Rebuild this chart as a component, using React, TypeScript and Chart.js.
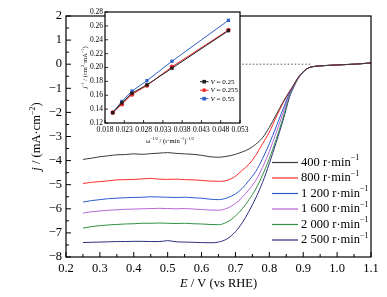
import React, { useEffect, useRef } from 'react';
import { Chart, registerables } from 'chart.js';
Chart.register(...registerables);

const FONT = '"Liberation Serif", "Times New Roman", serif';

// ---- Main chart data ----
const E = [0.25, 0.275, 0.3, 0.325, 0.35, 0.375, 0.4, 0.425, 0.45, 0.475, 0.5, 0.525, 0.55, 0.575, 0.6, 0.625, 0.65, 0.675, 0.7, 0.72, 0.74, 0.76, 0.78, 0.8, 0.82, 0.84, 0.86, 0.87, 0.88, 0.89, 0.9, 0.91, 0.92, 0.94, 0.96, 1.0, 1.05, 1.1];
const j400 = [-3.95, -3.9, -3.84, -3.8, -3.76, -3.75, -3.72, -3.74, -3.71, -3.69, -3.67, -3.7, -3.72, -3.74, -3.78, -3.84, -3.86, -3.82, -3.74, -3.64, -3.52, -3.32, -3.05, -2.62, -2.1, -1.58, -1.12, -0.9, -0.66, -0.46, -0.31, -0.2, -0.13, -0.08, -0.06, -0.03, 0.0, 0.05];
const j800 = [-4.95, -4.9, -4.87, -4.84, -4.8, -4.79, -4.78, -4.76, -4.74, -4.77, -4.78, -4.77, -4.79, -4.8, -4.82, -4.85, -4.86, -4.82, -4.65, -4.4, -4.15, -3.78, -3.3, -2.82, -2.2, -1.62, -1.14, -0.92, -0.67, -0.47, -0.31, -0.2, -0.13, -0.08, -0.06, -0.03, 0.0, 0.05];
const j1200 = [-5.72, -5.66, -5.62, -5.58, -5.56, -5.54, -5.53, -5.52, -5.5, -5.51, -5.52, -5.53, -5.52, -5.54, -5.56, -5.6, -5.62, -5.55, -5.38, -5.15, -4.82, -4.45, -3.92, -3.3, -2.6, -1.88, -1.18, -0.94, -0.68, -0.47, -0.32, -0.2, -0.13, -0.08, -0.06, -0.03, 0.0, 0.05];
const j1600 = [-6.18, -6.12, -6.09, -6.06, -6.04, -6.02, -6.01, -6.0, -5.99, -5.98, -5.99, -6.0, -5.99, -6.01, -6.03, -6.05, -6.06, -5.98, -5.78, -5.52, -5.2, -4.82, -4.28, -3.62, -2.85, -2.05, -1.22, -0.96, -0.69, -0.48, -0.32, -0.2, -0.13, -0.08, -0.06, -0.03, 0.0, 0.05];
const j2000 = [-6.8, -6.74, -6.7, -6.67, -6.65, -6.63, -6.62, -6.6, -6.6, -6.59, -6.6, -6.61, -6.6, -6.62, -6.63, -6.65, -6.66, -6.55, -6.3, -6.0, -5.62, -5.18, -4.6, -3.92, -3.12, -2.25, -1.28, -0.98, -0.7, -0.49, -0.33, -0.2, -0.13, -0.08, -0.06, -0.03, 0.0, 0.05];
const j2500 = [-7.4, -7.39, -7.38, -7.37, -7.36, -7.36, -7.35, -7.35, -7.36, -7.36, -7.32, -7.37, -7.38, -7.39, -7.4, -7.41, -7.38, -7.25, -6.95, -6.58, -6.1, -5.55, -4.9, -4.12, -3.25, -2.35, -1.35, -1.02, -0.72, -0.5, -0.33, -0.2, -0.13, -0.08, -0.06, -0.03, 0.0, 0.05];
const rpmLabels = ['400', '800', '1 200', '1 600', '2 000', '2 500'];
const curveColors = ['#3a3a3a', '#ff2a2a', '#2c5bcf', '#b766d6', '#2f8f42', '#2e2f7e'];
const dottedE = [0.72, 0.925];
const dottedJ = [0, 0];
const xTicks = [0.2, 0.3, 0.4, 0.5, 0.6, 0.7, 0.8, 0.9, 1.0, 1.1];
const yTicks = [-8, -7, -6, -5, -4, -3, -2, -1, 0, 1, 2];

// ---- Inset data ----
const insetX = [0.02, 0.02236, 0.025, 0.02887, 0.03536, 0.05];
const insetV025 = [0.135, 0.149, 0.163, 0.175, 0.199, 0.253];
const insetV0255 = [0.135, 0.147, 0.161, 0.174, 0.201, 0.254];
const insetV055 = [0.135, 0.151, 0.166, 0.181, 0.209, 0.268];
const insetLabels = ['0.25', '0.255', '0.55'];
const insetColors = ['#1e1e1e', '#ee2a2a', '#2d5fc4'];
const insetXTicks = [0.018, 0.023, 0.028, 0.033, 0.038, 0.043, 0.048, 0.053];
const insetYTicks = [0.12, 0.14, 0.16, 0.18, 0.2, 0.22, 0.24, 0.26, 0.28];

type Seg = { t: string; i?: boolean; sup?: boolean };

function drawRich(ctx: CanvasRenderingContext2D, segs: Seg[], x: number, y: number, size: number, align: 'center' | 'left', rotate = false) {
  const fontFor = (s: Seg) => `${s.i ? 'italic ' : ''}${s.sup ? size * 0.65 : size}px ${FONT}`;
  let total = 0;
  const widths = segs.map((s) => {
    ctx.font = fontFor(s);
    const w = ctx.measureText(s.t).width;
    total += w;
    return w;
  });
  ctx.save();
  ctx.translate(x, y);
  if (rotate) ctx.rotate(-Math.PI / 2);
  ctx.textBaseline = 'middle';
  ctx.textAlign = 'left';
  ctx.fillStyle = '#000';
  let cx = align === 'center' ? -total / 2 : 0;
  segs.forEach((s, k) => {
    ctx.font = fontFor(s);
    ctx.fillText(s.t, cx, s.sup ? -size * 0.35 : 0);
    cx += widths[k];
  });
  ctx.restore();
}

const mainDecor = {
  id: 'mainDecor',
  afterDatasetsDraw(chart: any) {
    const { ctx, chartArea: a, scales } = chart;
    const x = scales.x;
    const y = scales.y;
    ctx.save();
    ctx.strokeStyle = '#000';
    ctx.lineWidth = 1.2;
    ctx.strokeRect(a.left, a.top, a.right - a.left, a.bottom - a.top);
    ctx.lineWidth = 1;
    ctx.beginPath();
    for (let i = 0; i <= 20; i++) {
      const py = y.getPixelForValue(-8 + i * 0.5);
      const len = i % 2 === 0 ? 5 : 3;
      ctx.moveTo(a.left, py);
      ctx.lineTo(a.left + len, py);
    }
    for (let i = 0; i <= 18; i++) {
      const px = x.getPixelForValue(0.2 + i * 0.05);
      const len = i % 2 === 0 ? 5 : 3;
      ctx.moveTo(px, a.bottom);
      ctx.lineTo(px, a.bottom - len);
    }
    ctx.stroke();
    // legend
    rpmLabels.forEach((lab, k) => {
      const ly = 162.5 + k * 15.5;
      ctx.strokeStyle = curveColors[k];
      ctx.lineWidth = 1.2;
      ctx.beginPath();
      ctx.moveTo(272, ly);
      ctx.lineTo(298, ly);
      ctx.stroke();
      drawRich(ctx, [{ t: lab + ' r\u00b7min' }, { t: '\u22121', sup: true }], 301, ly, 12.5, 'left');
    });
    ctx.restore();
    drawRich(ctx, [{ t: 'j', i: true }, { t: ' / (mA\u00b7cm' }, { t: '\u22122', sup: true }, { t: ')' }], 37, (a.top + a.bottom) / 2, 12.5, 'center', true);
    drawRich(ctx, [{ t: 'E', i: true }, { t: ' / V (vs RHE)' }], (a.left + a.right) / 2, 284, 12.5, 'center');
  },
};

const insetDecor = {
  id: 'insetDecor',
  beforeDraw(chart: any) {
    const { ctx, chartArea: a } = chart;
    ctx.save();
    ctx.fillStyle = '#fff';
    ctx.fillRect(a.left, a.top, a.right - a.left, a.bottom - a.top);
    ctx.restore();
  },
  afterDatasetsDraw(chart: any) {
    const { ctx, chartArea: a, scales } = chart;
    const x = scales.x;
    const y = scales.y;
    ctx.save();
    ctx.strokeStyle = '#000';
    ctx.lineWidth = 1.2;
    ctx.strokeRect(a.left, a.top, a.right - a.left, a.bottom - a.top);
    ctx.lineWidth = 0.8;
    ctx.beginPath();
    insetYTicks.forEach((v) => {
      const py = y.getPixelForValue(v);
      ctx.moveTo(a.left, py);
      ctx.lineTo(a.left + 3, py);
    });
    insetXTicks.forEach((v) => {
      const px = x.getPixelForValue(v);
      ctx.moveTo(px, a.bottom);
      ctx.lineTo(px, a.bottom - 3);
    });
    ctx.stroke();
    // legend
    insetLabels.forEach((lab, k) => {
      const ly = 81.7 + k * 8.5;
      ctx.strokeStyle = insetColors[k];
      ctx.fillStyle = insetColors[k];
      ctx.lineWidth = 1;
      ctx.beginPath();
      ctx.moveTo(200, ly);
      ctx.lineTo(208.5, ly);
      ctx.stroke();
      if (k === 1) {
        ctx.beginPath();
        ctx.arc(204.2, ly, 1.9, 0, Math.PI * 2);
        ctx.fill();
      } else {
        ctx.fillRect(202.4, ly - 1.8, 3.6, 3.6);
      }
      drawRich(ctx, [{ t: 'V', i: true }, { t: ' = ' + lab }], 210.5, ly, 7, 'left');
    });
    ctx.restore();
    drawRich(ctx, [{ t: 'j', i: true }, { t: '\u22121', sup: true }, { t: ' / (cm' }, { t: '2', sup: true }, { t: '\u00b7mA' }, { t: '\u22121', sup: true }, { t: ')' }], 85, (a.top + a.bottom) / 2, 6.5, 'center', true);
    drawRich(ctx, [{ t: '\u03c9' }, { t: '\u22121/2', sup: true }, { t: ' / (r\u00b7min' }, { t: '\u22121', sup: true }, { t: ')' }, { t: '\u22121/2', sup: true }], 170, 141.5, 6.5, 'center');
  },
};

export default function App() {
  const mainRef = useRef<HTMLCanvasElement>(null);
  const insetRef = useRef<HTMLCanvasElement>(null);

  useEffect(() => {
    const series = [j400, j800, j1200, j1600, j2000, j2500];
    const mainDatasets: any[] = [
      {
        label: 'zero',
        data: dottedE.map((e, k) => ({ x: e, y: dottedJ[k] })),
        borderColor: '#555',
        borderWidth: 1,
        borderDash: [1.5, 2],
        pointRadius: 0,
      },
      ...series.map((s, k) => ({
        label: rpmLabels[k],
        data: E.map((e, i) => ({ x: e, y: s[i] })),
        borderColor: curveColors[k],
        borderWidth: 1,
        pointRadius: 0,
        cubicInterpolationMode: 'monotone',
      })),
    ];
    const main = new Chart(mainRef.current!, {
      type: 'line',
      data: { datasets: mainDatasets },
      options: {
        responsive: false,
        animation: false,
        devicePixelRatio: 1,
        layout: { padding: { left: 0, top: 16, right: 16, bottom: 0 } },
        plugins: { legend: { display: false }, tooltip: { enabled: false } },
        scales: {
          x: {
            type: 'linear',
            min: 0.2,
            max: 1.1,
            afterBuildTicks: (s: any) => { s.ticks = xTicks.map((v) => ({ value: v })); },
            afterFit: (s: any) => { s.height = 40; },
            ticks: { callback: (v: any) => Number(v).toFixed(1), font: { family: FONT, size: 12.5 }, color: '#000', padding: 4, maxRotation: 0, autoSkip: false },
            grid: { display: false, drawTicks: false },
            border: { display: false },
          },
          y: {
            type: 'linear',
            min: -8,
            max: 2,
            afterBuildTicks: (s: any) => { s.ticks = yTicks.map((v) => ({ value: v })); },
            afterFit: (s: any) => { s.width = 66; },
            ticks: { callback: (v: any) => (Number(v) < 0 ? '\u2212' + Math.abs(Number(v)) : String(v)), font: { family: FONT, size: 12.5 }, color: '#000', padding: 4, autoSkip: false },
            grid: { display: false, drawTicks: false },
            border: { display: false },
          },
        },
      },
      plugins: [mainDecor],
    } as any);

    const insetSeries = [insetV025, insetV0255, insetV055];
    const inset = new Chart(insetRef.current!, {
      type: 'line',
      data: {
        datasets: insetSeries.map((s, k) => ({
          label: 'V = ' + insetLabels[k],
          data: insetX.map((xv, i) => ({ x: xv, y: s[i] })),
          borderColor: insetColors[k],
          backgroundColor: insetColors[k],
          borderWidth: 1,
          pointRadius: 2.3,
          pointStyle: k === 1 ? 'circle' : 'rect',
          pointBorderWidth: 0,
        })),
      },
      options: {
        responsive: false,
        animation: false,
        devicePixelRatio: 1,
        layout: { padding: { left: 80, top: 12, right: 147, bottom: 150 } },
        plugins: { legend: { display: false }, tooltip: { enabled: false } },
        scales: {
          x: {
            type: 'linear',
            min: 0.018,
            max: 0.053,
            afterBuildTicks: (s: any) => { s.ticks = insetXTicks.map((v) => ({ value: v })); },
            afterFit: (s: any) => { s.height = 24; },
            ticks: { callback: (v: any) => Number(v).toFixed(3), font: { family: FONT, size: 7.5 }, color: '#000', padding: 3, maxRotation: 0, autoSkip: false },
            grid: { display: false, drawTicks: false },
            border: { display: false },
          },
          y: {
            type: 'linear',
            min: 0.12,
            max: 0.28,
            afterBuildTicks: (s: any) => { s.ticks = insetYTicks.map((v) => ({ value: v })); },
            afterFit: (s: any) => { s.width = 25; },
            ticks: { callback: (v: any) => Number(v).toFixed(2), font: { family: FONT, size: 7.5 }, color: '#000', padding: 2, autoSkip: false },
            grid: { display: false, drawTicks: false },
            border: { display: false },
          },
        },
      },
      plugins: [insetDecor],
    } as any);

    return () => {
      main.destroy();
      inset.destroy();
    };
  }, []);

  return (
    <div style={{ position: 'fixed', left: 0, top: 0, width: 387, height: 297, background: '#fff' }}>
      <canvas ref={mainRef} width={387} height={297} style={{ position: 'absolute', left: 0, top: 0, width: 387, height: 297 }} />
      <canvas ref={insetRef} width={387} height={297} style={{ position: 'absolute', left: 0, top: 0, width: 387, height: 297, pointerEvents: 'none' }} />
    </div>
  );
}
